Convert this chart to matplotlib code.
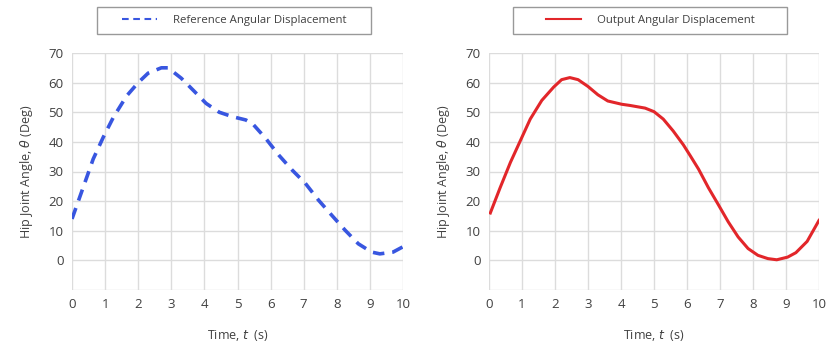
import matplotlib
matplotlib.use("Agg")
import matplotlib.pyplot as plt
from matplotlib.patches import Rectangle

# reference angular displacement
t_ref = [0.0, 0.34, 0.64, 0.95, 1.25, 1.65, 2.0, 2.3, 2.7, 2.9, 3.3, 3.7,
         4.05, 4.45, 4.85, 5.25, 5.45, 5.85, 6.25, 6.65, 7.05, 7.45, 7.85,
         8.25, 8.65, 9.05, 9.3, 9.7, 10.0]
ang_ref = [14.0, 24.7, 34.2, 41.7, 48.3, 55.5, 60.0, 63.2, 65.0, 65.0, 61.5,
           57.0, 53.0, 50.0, 48.5, 47.4, 46.2, 41.2, 35.5, 30.5, 26.0, 20.3,
           15.2, 10.2, 5.6, 2.8, 2.2, 2.8, 4.6]

# output angular displacement
t_out = [0.04, 0.34, 0.65, 0.95, 1.25, 1.6, 1.96, 2.2, 2.45, 2.7, 3.0, 3.3,
         3.6, 4.02, 4.27, 4.73, 5.0, 5.28, 5.58, 5.89, 6.1, 6.35, 6.65, 6.95,
         7.25, 7.55, 7.85, 8.15, 8.45, 8.72, 9.05, 9.3, 9.64, 10.0]
ang_out = [16.0, 24.6, 33.1, 40.4, 47.7, 54.0, 58.5, 61.0, 61.7, 61.0, 58.7,
           55.9, 53.8, 52.7, 52.3, 51.4, 50.2, 47.7, 43.7, 39.0, 35.3, 30.8,
           24.5, 18.8, 13.0, 7.9, 4.0, 1.7, 0.6, 0.2, 1.1, 2.6, 6.4, 13.5]

x_ticks = list(range(0, 11))
y_ticks = list(range(0, 80, 10))
y_grid = list(range(-10, 80, 10))

plt.rcParams["font.family"] = ["Open Sans", "DejaVu Sans"]
text_col = "#404040"

fig = plt.figure(figsize=(8.27, 3.44), dpi=100)
ax1 = fig.add_axes([72 / 827, 1 - 290 / 344, 331 / 827, 237 / 344])
ax2 = fig.add_axes([489 / 827, 1 - 290 / 344, 330 / 827, 237 / 344])

ax1.plot(t_ref, ang_ref, color="#3856e0", lw=2.6, ls=(0, (3.2, 2.2)),
         solid_joinstyle="round", dash_joinstyle="round",
         label="Reference Angular Displacement")
ax2.plot(t_out, ang_out, color="#e2262a", lw=2.2, solid_joinstyle="round",
         label="Output Angular Displacement")

for ax in (ax1, ax2):
    ax.set_xlim(0, 10)
    ax.set_ylim(-10, 70)
    ax.set_xticks(x_ticks)
    ax.set_yticks(y_grid)
    ax.set_yticklabels([""] + [str(v) for v in y_ticks])
    ax.grid(True, color="#dcdcdc", lw=1)
    ax.set_axisbelow(True)
    for s in ax.spines.values():
        s.set_visible(False)
    ax.tick_params(length=0, labelsize=9.5, labelcolor=text_col, pad=6)
    ax.set_xlabel(r"Time, $t$  (s)", fontsize=9, color=text_col, labelpad=12)
    ax.set_ylabel(r"Hip Joint Angle, $\theta$ (Deg)", fontsize=9,
                  color=text_col, labelpad=10)

# legend boxes above each panel (frame drawn separately)
for ax, x0 in ((ax1, 97), (ax2, 513)):
    fig.patches.append(Rectangle((x0 / 827, 1 - 34 / 344), 274 / 827, 27 / 344,
                                 transform=fig.transFigure, fill=False,
                                 edgecolor="#999999", lw=1))
    leg = ax.legend(loc="center",
                    bbox_to_anchor=((x0 + 137) / 827, 1 - 20.5 / 344),
                    bbox_transform=fig.transFigure, frameon=False,
                    fontsize=8.2, handlelength=3.1, handletextpad=1.4)
    for ln in leg.get_lines():
        ln.set_linewidth(1.5)
    for txt in leg.get_texts():
        txt.set_color(text_col)

fig.savefig("out.png", dpi=100)
